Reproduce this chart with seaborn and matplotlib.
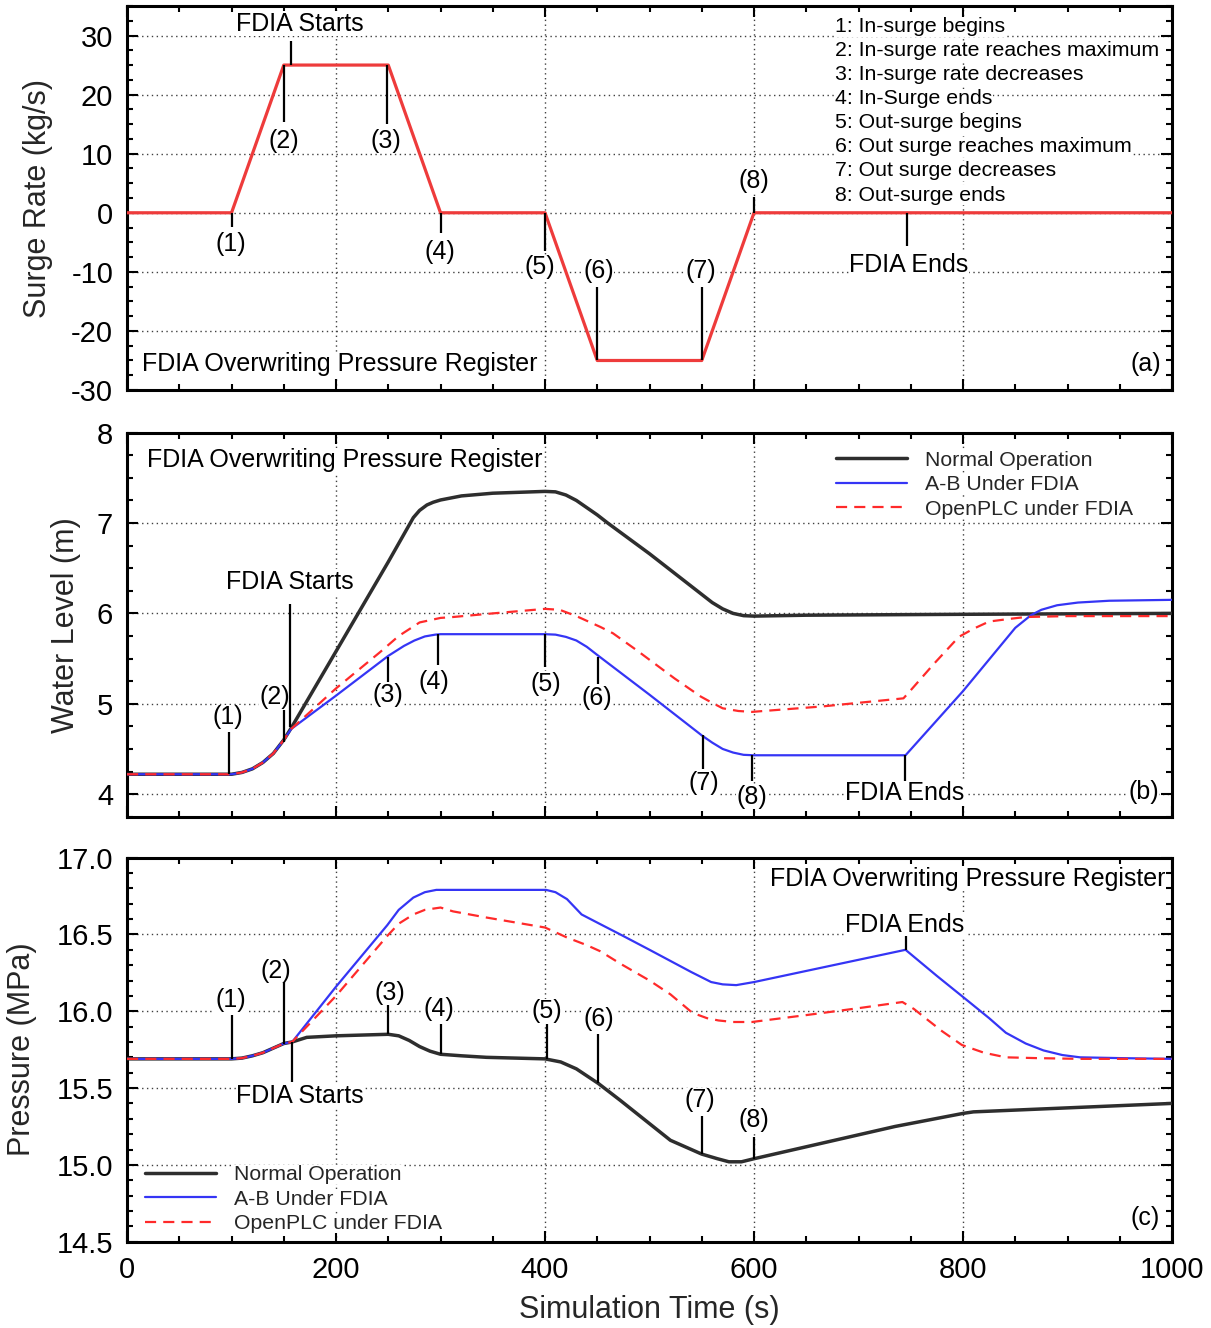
import matplotlib
matplotlib.use("Agg")
import matplotlib.pyplot as plt
from matplotlib.ticker import MultipleLocator, FormatStrFormatter
import numpy as np
import pandas as pd
import seaborn as sns

# ---------------- data ----------------
# (a) surge rate
t_surge = [0, 100, 150, 250, 300, 400, 450, 550, 600, 1000]
surge = [0, 0, 25, 25, 0, 0, -25, -25, 0, 0]

# (b) water level
t_lvl_normal = [0, 100, 110, 120, 130, 140, 150, 157, 200, 250, 274, 280, 287, 293, 300, 320, 350, 400,
                410, 420, 430, 440, 450, 460, 480, 500, 520, 540, 560, 570, 580, 590, 600, 650, 800, 1000]
lvl_normal = [4.22, 4.22, 4.24, 4.28, 4.35, 4.45, 4.60, 4.73, 5.58, 6.57, 7.06, 7.14, 7.20, 7.23, 7.255, 7.30, 7.33, 7.35,
              7.345, 7.31, 7.25, 7.17, 7.09, 7.00, 6.83, 6.66, 6.48, 6.30, 6.12, 6.05, 6.00, 5.975, 5.97, 5.98, 5.99, 6.00]

t_lvl_ab = [0, 100, 110, 120, 130, 140, 150, 157, 200, 250, 265, 275, 285, 295, 300, 400, 410, 420, 430,
            440, 450, 500, 550, 560, 570, 580, 590, 600, 745, 800, 850, 865, 875, 890, 910, 940, 1000]
lvl_ab = [4.22, 4.22, 4.24, 4.28, 4.35, 4.45, 4.60, 4.72, 5.09, 5.53, 5.64, 5.70, 5.745, 5.765, 5.77, 5.77, 5.765, 5.74, 5.70,
          5.63, 5.54, 5.10, 4.65, 4.57, 4.50, 4.46, 4.435, 4.43, 4.43, 5.14, 5.84, 5.98, 6.04, 6.09, 6.12, 6.14, 6.15]

t_lvl_open = [0, 100, 110, 120, 130, 140, 150, 157, 200, 242, 260, 280, 300, 312, 350, 400, 414, 430, 453,
              465, 488, 524, 549, 560, 570, 585, 598, 665, 743, 750, 772, 796, 810, 825, 845, 860, 900, 1000]
lvl_open = [4.22, 4.22, 4.24, 4.28, 4.35, 4.45, 4.60, 4.72, 5.17, 5.57, 5.75, 5.90, 5.95, 5.96, 6.00, 6.05, 6.04, 5.97, 5.85,
            5.78, 5.59, 5.28, 5.08, 5.01, 4.95, 4.92, 4.91, 4.97, 5.06, 5.15, 5.44, 5.74, 5.83, 5.91, 5.94, 5.96, 5.97, 5.97]

# (c) pressure
t_p_normal = [0, 100, 110, 120, 130, 140, 150, 158, 172, 200, 250, 260, 270, 280, 290, 300, 320, 344, 400,
              415, 430, 451, 472, 520, 550, 565, 576, 588, 600, 735, 800, 810, 1000]
p_normal = [15.69, 15.69, 15.695, 15.71, 15.73, 15.76, 15.79, 15.80, 15.83, 15.84, 15.85, 15.84, 15.81, 15.77, 15.74, 15.72,
            15.71, 15.70, 15.69, 15.67, 15.625, 15.53, 15.42, 15.16, 15.07, 15.04, 15.02, 15.02, 15.04, 15.25, 15.335,
            15.345, 15.40]

t_p_ab = [0, 100, 110, 120, 130, 140, 150, 158, 200, 249, 260, 274, 285, 296, 300, 401, 410, 421, 428, 435,
          452, 472, 500, 540, 559, 570, 583, 600, 745, 775, 806, 825, 841, 860, 877, 895, 912, 950, 1000]
p_ab = [15.69, 15.69, 15.695, 15.71, 15.73, 15.76, 15.79, 15.80, 16.16, 16.56, 16.66, 16.74, 16.775, 16.79, 16.79, 16.79,
        16.775, 16.73, 16.68, 16.63, 16.57, 16.50, 16.40, 16.255, 16.19, 16.175, 16.17, 16.19, 16.40, 16.23, 16.06,
        15.955, 15.86, 15.79, 15.745, 15.715, 15.70, 15.695, 15.69]

t_p_open = [0, 100, 110, 120, 130, 140, 150, 158, 200, 249, 260, 274, 285, 300, 312, 344, 400, 421, 440, 453,
            472, 500, 520, 541, 555, 566, 580, 598, 650, 700, 742, 753, 765, 780, 799, 820, 841, 870, 912, 1000]
p_open = [15.69, 15.69, 15.695, 15.71, 15.73, 15.76, 15.79, 15.80, 16.10, 16.49, 16.57, 16.63, 16.66, 16.675, 16.65,
          16.61, 16.545, 16.48, 16.43, 16.39, 16.31, 16.20, 16.11, 15.99, 15.955, 15.94, 15.93, 15.93, 15.975, 16.02,
          16.06, 16.015, 15.95, 15.87, 15.78, 15.73, 15.70, 15.695, 15.69, 15.69]

x_ticks = [0, 200, 400, 600, 800, 1000]
surge_note_lines = ["1: In-surge begins", "2: In-surge rate reaches maximum", "3: In-surge rate decreases",
                    "4: In-Surge ends", "5: Out-surge begins", "6: Out surge reaches maximum",
                    "7: Out surge decreases", "8: Out-surge ends"]
series_names = ["Normal Operation", "A-B Under FDIA", "OpenPLC under FDIA"]

# ---------------- style ----------------
sns.set_style("ticks")
plt.rcParams["font.family"] = ["Liberation Sans", "DejaVu Sans"]
plt.rcParams["axes.unicode_minus"] = False
plt.rcParams["axes.edgecolor"] = "black"
plt.rcParams["xtick.color"] = "black"
plt.rcParams["ytick.color"] = "black"

C_NORMAL = "#2e2e2e"
C_AB = "#3535f5"
C_OPEN = "#ff2a2a"
C_SURGE = "#ee3b3b"

fig = plt.figure(figsize=(12.11, 13.28), dpi=100)
L, W, H = 0.1049, 0.8629, 0.2892
axa = fig.add_axes([L, 0.7063, W, H])
axb = fig.add_axes([L, 0.3850, W, H])
axc = fig.add_axes([L, 0.0650, W, H])


def style(ax, ymaj, ymin, ylim, fmt, show_x):
    ax.set_xlim(0, 1000)
    ax.set_ylim(*ylim)
    ax.set_xticks(x_ticks)
    ax.xaxis.set_minor_locator(MultipleLocator(50))
    ax.yaxis.set_major_locator(MultipleLocator(ymaj))
    ax.yaxis.set_minor_locator(MultipleLocator(ymin))
    ax.yaxis.set_major_formatter(FormatStrFormatter(fmt))
    ax.tick_params(which="both", direction="in", top=True, right=True, labelsize=21, pad=10,
                   width=1.5, color="black", labelcolor="black")
    ax.tick_params(which="major", length=8)
    ax.tick_params(which="minor", length=4.5)
    if not show_x:
        ax.tick_params(axis="x", labelbottom=False)
    ax.grid(True, which="major", linestyle=(0, (1, 2.5)), color="0.25", lw=1.0)
    for s in ax.spines.values():
        s.set_linewidth(2.2)
        s.set_color("black")
        s.set_visible(True)


def note(ax, x, y, s, ha="center", size=18, transform=None, bg=True):
    kw = dict(ha=ha, va="center", fontsize=size, color="black", zorder=3)
    if bg:
        kw["bbox"] = dict(fc="white", ec="none", pad=0.3)
    if transform is not None:
        kw["transform"] = transform
    ax.text(x, y, s, **kw)


def mark(ax, x, y0, y1):
    ax.plot([x, x], [y0, y1], color="black", lw=1.6, zorder=4, solid_capstyle="butt")


legend_kw = dict(loc="upper left", frameon=False, fontsize=15.3, handlelength=3.35, handletextpad=0.85,
                 labelspacing=0.26, borderpad=0, borderaxespad=0)


def mask_legend(leg):
    for t in leg.get_texts():
        t.set_bbox(dict(fc="white", ec="none", pad=0.3))


# ---------------- (a) ----------------
df_a = pd.DataFrame({"t": t_surge, "v": surge})
sns.lineplot(data=df_a, x="t", y="v", ax=axa, color=C_SURGE, lw=2.3, sort=False, estimator=None, zorder=4)
style(axa, 10, 2.5, (-30, 35), "%d", False)
axa.set_xlabel("")
axa.set_ylabel("Surge Rate (kg/s)", fontsize=22, va="center")
axa.yaxis.set_label_coords(-0.0852, 0.5)

note(axa, 165, 32.0, "FDIA Starts")
mark(axa, 157, 25, 29)
for x, y0, y1, lx, ly, s in [(100, 0, -2.4, 99, -5.2, "(1)"), (150, 25, 15.3, 150, 12.2, "(2)"),
                             (249, 25, 15.1, 248, 12.2, "(3)"), (300, 0, -3.4, 299.5, -6.7, "(4)"),
                             (400, 0, -6.5, 395, -9.2, "(5)"), (450, -25, -12.6, 451, -9.8, "(6)"),
                             (550, -25, -12.6, 549.5, -9.8, "(7)"), (600, 0, 2.7, 600, 5.4, "(8)")]:
    mark(axa, x, y0, y1)
    note(axa, lx, ly, s)
mark(axa, 746, 0, -5.6)
note(axa, 748, -8.8, "FDIA Ends")
note(axa, 0.0144, 0.0677, "FDIA Overwriting Pressure Register", ha="left", transform=axa.transAxes)
note(axa, 0.9895, 0.0677, "(a)", ha="right", transform=axa.transAxes)
for i, s in enumerate(surge_note_lines):
    note(axa, 0.6775, 0.946 - i * 0.0626, s, ha="left", size=15.3, transform=axa.transAxes)

# ---------------- (b) ----------------
sns.lineplot(x=t_lvl_normal, y=lvl_normal, ax=axb, color=C_NORMAL, lw=2.5, sort=False, estimator=None,
             label=series_names[0], zorder=4, legend=False)
sns.lineplot(x=t_lvl_ab, y=lvl_ab, ax=axb, color=C_AB, lw=1.6, sort=False, estimator=None,
             label=series_names[1], zorder=4, legend=False)
sns.lineplot(x=t_lvl_open, y=lvl_open, ax=axb, color=C_OPEN, lw=1.6, sort=False, estimator=None,
             label=series_names[2], zorder=4, legend=False, linestyle=(0, (5, 3.2)))
style(axb, 1, 0.25, (3.75, 8), "%d", False)
axb.set_ylabel("Water Level (m)", fontsize=22, va="center")
axb.yaxis.set_label_coords(-0.0584, 0.5)

mark(axb, 156, 4.74, 6.10)
note(axb, 156, 6.35, "FDIA Starts")
for x, y0, y1, lx, ly, s in [(98, 4.22, 4.69, 96, 4.85, "(1)"), (150, 4.58, 4.93, 141, 5.08, "(2)"),
                             (249.4, 5.52, 5.24, 249.4, 5.095, "(3)"), (298, 5.77, 5.43, 294, 5.24, "(4)"),
                             (400, 5.77, 5.41, 400.6, 5.22, "(5)"), (451, 5.52, 5.22, 450, 5.06, "(6)"),
                             (551, 4.65, 4.28, 552, 4.12, "(7)"), (598, 4.43, 4.14, 598, 3.97, "(8)")]:
    mark(axb, x, y0, y1)
    note(axb, lx, ly, s)
mark(axb, 744.4, 4.43, 4.14)
note(axb, 744, 4.01, "FDIA Ends")
note(axb, 0.0189, 0.928, "FDIA Overwriting Pressure Register", ha="left", transform=axb.transAxes)
note(axb, 0.9875, 0.064, "(b)", ha="right", transform=axb.transAxes)
mask_legend(axb.legend(bbox_to_anchor=(0.678, 0.9526), **legend_kw))

# ---------------- (c) ----------------
sns.lineplot(x=t_p_normal, y=p_normal, ax=axc, color=C_NORMAL, lw=2.5, sort=False, estimator=None,
             label=series_names[0], zorder=4, legend=False)
sns.lineplot(x=t_p_ab, y=p_ab, ax=axc, color=C_AB, lw=1.6, sort=False, estimator=None,
             label=series_names[1], zorder=4, legend=False)
sns.lineplot(x=t_p_open, y=p_open, ax=axc, color=C_OPEN, lw=1.6, sort=False, estimator=None,
             label=series_names[2], zorder=4, legend=False, linestyle=(0, (5, 3.2)))
style(axc, 0.5, 0.1, (14.5, 17.0), "%.1f", True)
axc.set_ylabel("Pressure (MPa)", fontsize=22, va="center")
axc.yaxis.set_label_coords(-0.1005, 0.5)
axc.set_xlabel("Simulation Time (s)", fontsize=22, va="center")
axc.xaxis.set_label_coords(0.5, -0.178)

for x, y0, y1, lx, ly, s in [(100, 15.69, 15.976, 99.5, 16.07, "(1)"), (150, 15.79, 16.19, 142.6, 16.26, "(2)"),
                             (250, 15.85, 16.04, 252, 16.12, "(3)"), (300, 15.72, 15.92, 298, 16.015, "(4)"),
                             (401.6, 15.69, 15.92, 402, 16.00, "(5)"), (451, 15.53, 15.85, 451.7, 15.95, "(6)"),
                             (550.5, 15.07, 15.32, 548, 15.42, "(7)"), (600, 15.04, 15.18, 600, 15.29, "(8)")]:
    mark(axc, x, y0, y1)
    note(axc, lx, ly, s)
mark(axc, 157.6, 15.80, 15.54)
note(axc, 165.5, 15.45, "FDIA Starts")
mark(axc, 745, 16.40, 16.49)
note(axc, 744, 16.56, "FDIA Ends")
note(axc, 0.9933, 0.9445, "FDIA Overwriting Pressure Register", ha="right", transform=axc.transAxes)
note(axc, 0.988, 0.062, "(c)", ha="right", transform=axc.transAxes)
mask_legend(axc.legend(bbox_to_anchor=(0.0172, 0.1996), **legend_kw))

fig.savefig("out.png", dpi=100)
